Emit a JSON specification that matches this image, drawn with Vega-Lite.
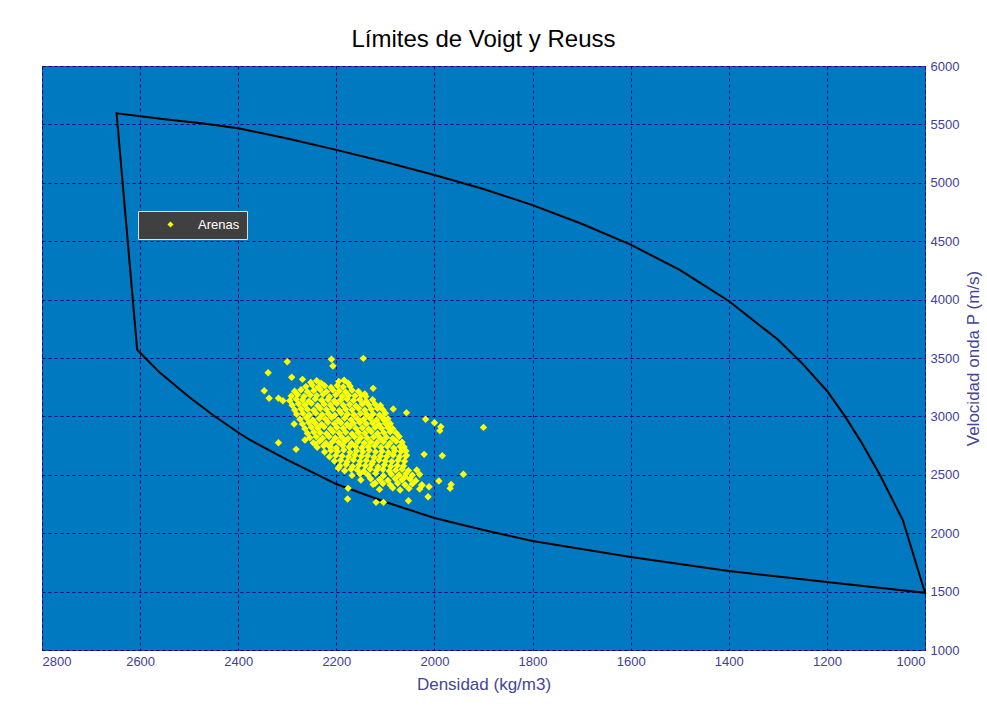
{
  "$schema": "https://vega.github.io/schema/vega-lite/v6.json",
  "width": 883,
  "height": 584,
  "autosize": {"type": "none"},
  "padding": {"left": 42, "top": 66, "right": 62, "bottom": 58},
  "background": "white",
  "title": {
    "text": "Límites de Voigt y Reuss",
    "font": "Liberation Sans",
    "fontSize": 24,
    "fontWeight": "normal",
    "color": "#000000",
    "anchor": "middle",
    "offset": 8
  },
  "config": {
    "view": {"fill": "#0079C1", "stroke": "#3C3CA0", "strokeWidth": 1},
    "axis": {
      "domain": false,
      "ticks": false,
      "grid": true,
      "gridColor": "#000080",
      "gridDash": [3, 3],
      "gridWidth": 1,
      "gridOpacity": 1,
      "labelColor": "#40409A",
      "labelFont": "Liberation Sans",
      "labelFontSize": 13,
      "labelPadding": 5,
      "titleColor": "#45459A",
      "titleFont": "Liberation Sans",
      "titleFontSize": 17,
      "titleFontWeight": "normal"
    }
  },
  "datasets": {
    "limites": [
      {"ord": 1, "den": 2606, "vel": 3570},
      {"ord": 2, "den": 2648, "vel": 5595},
      {"ord": 3, "den": 2550, "vel": 5545},
      {"ord": 4, "den": 2475, "vel": 5509},
      {"ord": 5, "den": 2400, "vel": 5467},
      {"ord": 6, "den": 2300, "vel": 5380},
      {"ord": 7, "den": 2200, "vel": 5282},
      {"ord": 8, "den": 2100, "vel": 5178},
      {"ord": 9, "den": 2000, "vel": 5067},
      {"ord": 10, "den": 1900, "vel": 4947},
      {"ord": 11, "den": 1800, "vel": 4809},
      {"ord": 12, "den": 1700, "vel": 4649},
      {"ord": 13, "den": 1600, "vel": 4470},
      {"ord": 14, "den": 1500, "vel": 4255},
      {"ord": 15, "den": 1400, "vel": 3988},
      {"ord": 16, "den": 1300, "vel": 3658},
      {"ord": 17, "den": 1250, "vel": 3452},
      {"ord": 18, "den": 1200, "vel": 3220},
      {"ord": 19, "den": 1163, "vel": 3000},
      {"ord": 20, "den": 1130, "vel": 2780},
      {"ord": 21, "den": 1092, "vel": 2500},
      {"ord": 22, "den": 1045, "vel": 2110},
      {"ord": 23, "den": 1000, "vel": 1490},
      {"ord": 24, "den": 1200, "vel": 1582},
      {"ord": 25, "den": 1400, "vel": 1676},
      {"ord": 26, "den": 1600, "vel": 1796},
      {"ord": 27, "den": 1800, "vel": 1933},
      {"ord": 28, "den": 1900, "vel": 2027},
      {"ord": 29, "den": 2000, "vel": 2130},
      {"ord": 30, "den": 2100, "vel": 2267},
      {"ord": 31, "den": 2200, "vel": 2421},
      {"ord": 32, "den": 2300, "vel": 2627},
      {"ord": 33, "den": 2376, "vel": 2798},
      {"ord": 34, "den": 2400, "vel": 2862},
      {"ord": 35, "den": 2451, "vel": 3010},
      {"ord": 36, "den": 2500, "vel": 3166},
      {"ord": 37, "den": 2560, "vel": 3375},
      {"ord": 38, "den": 2606, "vel": 3570}
    ],
    "arenas": [
      {"den": 2252, "vel": 3290}, {"den": 2240, "vel": 3305}, {"den": 2231, "vel": 3285}, {"den": 2195, "vel": 3300}, {"den": 2184, "vel": 3310}, {"den": 2176, "vel": 3285},
      {"den": 2262, "vel": 3255}, {"den": 2249, "vel": 3268}, {"den": 2237, "vel": 3250}, {"den": 2224, "vel": 3262}, {"den": 2211, "vel": 3248}, {"den": 2198, "vel": 3265}, {"den": 2186, "vel": 3252}, {"den": 2172, "vel": 3258},
      {"den": 2285, "vel": 3215}, {"den": 2272, "vel": 3228}, {"den": 2259, "vel": 3210}, {"den": 2246, "vel": 3222}, {"den": 2233, "vel": 3230}, {"den": 2220, "vel": 3212}, {"den": 2207, "vel": 3225}, {"den": 2194, "vel": 3218}, {"den": 2181, "vel": 3208}, {"den": 2168, "vel": 3224}, {"den": 2155, "vel": 3214},
      {"den": 2292, "vel": 3175}, {"den": 2279, "vel": 3188}, {"den": 2266, "vel": 3170}, {"den": 2253, "vel": 3182}, {"den": 2240, "vel": 3178}, {"den": 2227, "vel": 3190}, {"den": 2214, "vel": 3168}, {"den": 2201, "vel": 3185}, {"den": 2188, "vel": 3172}, {"den": 2175, "vel": 3180}, {"den": 2162, "vel": 3176}, {"den": 2149, "vel": 3184}, {"den": 2140, "vel": 3170},
      {"den": 2295, "vel": 3135}, {"den": 2282, "vel": 3148}, {"den": 2269, "vel": 3142}, {"den": 2256, "vel": 3130}, {"den": 2243, "vel": 3150}, {"den": 2230, "vel": 3138}, {"den": 2217, "vel": 3145}, {"den": 2204, "vel": 3132}, {"den": 2191, "vel": 3140}, {"den": 2178, "vel": 3148}, {"den": 2165, "vel": 3136}, {"den": 2152, "vel": 3144}, {"den": 2139, "vel": 3130}, {"den": 2126, "vel": 3142},
      {"den": 2290, "vel": 3095}, {"den": 2277, "vel": 3108}, {"den": 2264, "vel": 3100}, {"den": 2251, "vel": 3112}, {"den": 2238, "vel": 3092}, {"den": 2225, "vel": 3105}, {"den": 2212, "vel": 3098}, {"den": 2199, "vel": 3110}, {"den": 2186, "vel": 3096}, {"den": 2173, "vel": 3102}, {"den": 2160, "vel": 3090}, {"den": 2147, "vel": 3106}, {"den": 2134, "vel": 3099}, {"den": 2121, "vel": 3104}, {"den": 2110, "vel": 3094},
      {"den": 2285, "vel": 3055}, {"den": 2272, "vel": 3066}, {"den": 2259, "vel": 3060}, {"den": 2246, "vel": 3052}, {"den": 2233, "vel": 3068}, {"den": 2220, "vel": 3058}, {"den": 2207, "vel": 3064}, {"den": 2194, "vel": 3050}, {"den": 2181, "vel": 3062}, {"den": 2168, "vel": 3056}, {"den": 2155, "vel": 3070}, {"den": 2142, "vel": 3054}, {"den": 2129, "vel": 3061}, {"den": 2116, "vel": 3067}, {"den": 2105, "vel": 3058},
      {"den": 2281, "vel": 3018}, {"den": 2268, "vel": 3025}, {"den": 2255, "vel": 3012}, {"den": 2242, "vel": 3028}, {"den": 2229, "vel": 3015}, {"den": 2216, "vel": 3022}, {"den": 2203, "vel": 3010}, {"den": 2190, "vel": 3026}, {"den": 2177, "vel": 3019}, {"den": 2164, "vel": 3014}, {"den": 2151, "vel": 3024}, {"den": 2138, "vel": 3016}, {"den": 2125, "vel": 3021}, {"den": 2112, "vel": 3012}, {"den": 2100, "vel": 3027},
      {"den": 2274, "vel": 2975}, {"den": 2261, "vel": 2988}, {"den": 2248, "vel": 2970}, {"den": 2235, "vel": 2982}, {"den": 2222, "vel": 2978}, {"den": 2209, "vel": 2990}, {"den": 2196, "vel": 2968}, {"den": 2183, "vel": 2985}, {"den": 2170, "vel": 2972}, {"den": 2157, "vel": 2980}, {"den": 2144, "vel": 2976}, {"den": 2131, "vel": 2984}, {"den": 2118, "vel": 2970}, {"den": 2105, "vel": 2986}, {"den": 2095, "vel": 2979},
      {"den": 2269, "vel": 2935}, {"den": 2256, "vel": 2948}, {"den": 2243, "vel": 2942}, {"den": 2230, "vel": 2930}, {"den": 2217, "vel": 2950}, {"den": 2204, "vel": 2938}, {"den": 2191, "vel": 2945}, {"den": 2178, "vel": 2932}, {"den": 2165, "vel": 2940}, {"den": 2152, "vel": 2948}, {"den": 2139, "vel": 2936}, {"den": 2126, "vel": 2944}, {"den": 2113, "vel": 2930}, {"den": 2100, "vel": 2942}, {"den": 2090, "vel": 2938},
      {"den": 2264, "vel": 2895}, {"den": 2251, "vel": 2908}, {"den": 2238, "vel": 2900}, {"den": 2225, "vel": 2912}, {"den": 2212, "vel": 2892}, {"den": 2199, "vel": 2905}, {"den": 2186, "vel": 2898}, {"den": 2173, "vel": 2910}, {"den": 2160, "vel": 2896}, {"den": 2147, "vel": 2902}, {"den": 2134, "vel": 2890}, {"den": 2121, "vel": 2906}, {"den": 2108, "vel": 2899}, {"den": 2095, "vel": 2904}, {"den": 2085, "vel": 2894},
      {"den": 2259, "vel": 2855}, {"den": 2246, "vel": 2866}, {"den": 2233, "vel": 2860}, {"den": 2220, "vel": 2852}, {"den": 2207, "vel": 2868}, {"den": 2194, "vel": 2858}, {"den": 2181, "vel": 2864}, {"den": 2168, "vel": 2850}, {"den": 2155, "vel": 2862}, {"den": 2142, "vel": 2856}, {"den": 2129, "vel": 2870}, {"den": 2116, "vel": 2854}, {"den": 2103, "vel": 2861}, {"den": 2090, "vel": 2867}, {"den": 2078, "vel": 2858},
      {"den": 2254, "vel": 2818}, {"den": 2241, "vel": 2825}, {"den": 2228, "vel": 2812}, {"den": 2215, "vel": 2828}, {"den": 2202, "vel": 2815}, {"den": 2189, "vel": 2822}, {"den": 2176, "vel": 2810}, {"den": 2163, "vel": 2826}, {"den": 2150, "vel": 2819}, {"den": 2137, "vel": 2814}, {"den": 2124, "vel": 2824}, {"den": 2111, "vel": 2816}, {"den": 2098, "vel": 2821}, {"den": 2085, "vel": 2812}, {"den": 2072, "vel": 2827},
      {"den": 2247, "vel": 2775}, {"den": 2234, "vel": 2788}, {"den": 2221, "vel": 2770}, {"den": 2208, "vel": 2782}, {"den": 2195, "vel": 2778}, {"den": 2182, "vel": 2790}, {"den": 2169, "vel": 2768}, {"den": 2156, "vel": 2785}, {"den": 2143, "vel": 2772}, {"den": 2130, "vel": 2780}, {"den": 2117, "vel": 2776}, {"den": 2104, "vel": 2784}, {"den": 2091, "vel": 2770}, {"den": 2078, "vel": 2786}, {"den": 2066, "vel": 2779},
      {"den": 2239, "vel": 2735}, {"den": 2226, "vel": 2748}, {"den": 2213, "vel": 2742}, {"den": 2200, "vel": 2730}, {"den": 2187, "vel": 2750}, {"den": 2174, "vel": 2738}, {"den": 2161, "vel": 2745}, {"den": 2148, "vel": 2732}, {"den": 2135, "vel": 2740}, {"den": 2122, "vel": 2748}, {"den": 2109, "vel": 2736}, {"den": 2096, "vel": 2744}, {"den": 2083, "vel": 2730}, {"den": 2070, "vel": 2742}, {"den": 2062, "vel": 2738},
      {"den": 2224, "vel": 2695}, {"den": 2211, "vel": 2708}, {"den": 2198, "vel": 2700}, {"den": 2185, "vel": 2712}, {"den": 2172, "vel": 2692}, {"den": 2159, "vel": 2705}, {"den": 2146, "vel": 2698}, {"den": 2133, "vel": 2710}, {"den": 2120, "vel": 2696}, {"den": 2107, "vel": 2702}, {"den": 2094, "vel": 2690}, {"den": 2081, "vel": 2706}, {"den": 2068, "vel": 2699}, {"den": 2058, "vel": 2704},
      {"den": 2214, "vel": 2655}, {"den": 2201, "vel": 2666}, {"den": 2188, "vel": 2660}, {"den": 2175, "vel": 2652}, {"den": 2162, "vel": 2668}, {"den": 2149, "vel": 2658}, {"den": 2136, "vel": 2664}, {"den": 2123, "vel": 2650}, {"den": 2110, "vel": 2662}, {"den": 2097, "vel": 2656}, {"den": 2084, "vel": 2670}, {"den": 2071, "vel": 2654}, {"den": 2058, "vel": 2661},
      {"den": 2204, "vel": 2618}, {"den": 2191, "vel": 2625}, {"den": 2178, "vel": 2612}, {"den": 2165, "vel": 2628}, {"den": 2152, "vel": 2615}, {"den": 2139, "vel": 2622}, {"den": 2126, "vel": 2610}, {"den": 2113, "vel": 2626}, {"den": 2100, "vel": 2619}, {"den": 2087, "vel": 2614}, {"den": 2074, "vel": 2624}, {"den": 2061, "vel": 2616},
      {"den": 2193, "vel": 2575}, {"den": 2180, "vel": 2588}, {"den": 2167, "vel": 2570}, {"den": 2154, "vel": 2582}, {"den": 2141, "vel": 2578}, {"den": 2128, "vel": 2590}, {"den": 2115, "vel": 2568}, {"den": 2102, "vel": 2585}, {"den": 2089, "vel": 2572}, {"den": 2076, "vel": 2580}, {"den": 2063, "vel": 2576},
      {"den": 2183, "vel": 2535}, {"den": 2170, "vel": 2548}, {"den": 2157, "vel": 2542}, {"den": 2144, "vel": 2530}, {"den": 2131, "vel": 2550}, {"den": 2118, "vel": 2538}, {"den": 2105, "vel": 2545}, {"den": 2092, "vel": 2532}, {"den": 2079, "vel": 2540}, {"den": 2066, "vel": 2548}, {"den": 2053, "vel": 2536},
      {"den": 2168, "vel": 2495}, {"den": 2152, "vel": 2508}, {"den": 2136, "vel": 2500}, {"den": 2120, "vel": 2512}, {"den": 2104, "vel": 2492}, {"den": 2088, "vel": 2505}, {"den": 2072, "vel": 2498}, {"den": 2058, "vel": 2510}, {"den": 2045, "vel": 2496}, {"den": 2030, "vel": 2502},
      {"den": 2150, "vel": 2455}, {"den": 2130, "vel": 2466}, {"den": 2112, "vel": 2460}, {"den": 2095, "vel": 2452}, {"den": 2080, "vel": 2468}, {"den": 2066, "vel": 2458}, {"den": 2050, "vel": 2464}, {"den": 2038, "vel": 2450},
      {"den": 2125, "vel": 2418}, {"den": 2105, "vel": 2425}, {"den": 2090, "vel": 2412}, {"den": 2075, "vel": 2428}, {"den": 2060, "vel": 2415}, {"den": 2045, "vel": 2422}, {"den": 2025, "vel": 2410},
      {"den": 2112, "vel": 2375}, {"den": 2085, "vel": 2388}, {"den": 2070, "vel": 2370}, {"den": 2052, "vel": 2382}, {"den": 2030, "vel": 2378},
      {"den": 2339, "vel": 3374}, {"den": 2300, "vel": 3468}, {"den": 2347, "vel": 3220}, {"den": 2337, "vel": 3155}, {"den": 2318, "vel": 3155}, {"den": 2309, "vel": 3134},
      {"den": 2291, "vel": 3335}, {"den": 2269, "vel": 3317}, {"den": 2210, "vel": 3489}, {"den": 2207, "vel": 3431}, {"den": 2145, "vel": 3497}, {"den": 2125, "vel": 3240},
      {"den": 2142, "vel": 3192}, {"den": 2318, "vel": 2775}, {"den": 2282, "vel": 2718}, {"den": 2243, "vel": 2761}, {"den": 2057, "vel": 3032}, {"den": 2018, "vel": 2975},
      {"den": 2000, "vel": 2946}, {"den": 1987, "vel": 2912}, {"den": 1989, "vel": 2878}, {"den": 1900, "vel": 2906}, {"den": 2021, "vel": 2675}, {"den": 1984, "vel": 2663},
      {"den": 1941, "vel": 2504}, {"den": 1966, "vel": 2418}, {"den": 1968, "vel": 2384}, {"den": 1991, "vel": 2447}, {"den": 2011, "vel": 2398}, {"den": 2013, "vel": 2312},
      {"den": 2026, "vel": 2413}, {"den": 2053, "vel": 2278}, {"den": 2177, "vel": 2293}, {"den": 2176, "vel": 2384}, {"den": 2119, "vel": 2264}, {"den": 2104, "vel": 2264},
      {"den": 2121, "vel": 2427}, {"den": 2057, "vel": 2667}, {"den": 2084, "vel": 3063}, {"den": 2103, "vel": 2969}, {"den": 2286, "vel": 2935}, {"den": 2264, "vel": 2798},
      {"den": 2213, "vel": 2740}, {"den": 2060, "vel": 2484}, {"den": 2196, "vel": 2556}, {"den": 2036, "vel": 2541}
    ]
  },
  "encoding": {
    "x": {
      "field": "den",
      "type": "quantitative",
      "scale": {"domain": [1000, 2800], "reverse": true, "nice": false, "zero": false},
      "axis": {
        "orient": "bottom",
        "values": [1000, 1200, 1400, 1600, 1800, 2000, 2200, 2400, 2600, 2800],
        "format": "d",
        "title": "Densidad (kg/m3)",
        "titlePadding": 8
      }
    },
    "y": {
      "field": "vel",
      "type": "quantitative",
      "scale": {"domain": [1000, 6000], "nice": false, "zero": false},
      "axis": {
        "orient": "right",
        "values": [1000, 1500, 2000, 2500, 3000, 3500, 4000, 4500, 5000, 5500, 6000],
        "format": "d",
        "labelAlign": "left",
        "title": "Velocidad onda P (m/s)",
        "titleAngle": 270,
        "titleBaseline": "top",
        "titlePadding": 7
      }
    }
  },
  "layer": [
    {
      "data": {"name": "limites"},
      "mark": {"type": "line", "color": "#000000", "strokeWidth": 2},
      "encoding": {"order": {"field": "ord", "type": "quantitative"}}
    },
    {
      "data": {"name": "arenas"},
      "mark": {"type": "point", "shape": "diamond", "filled": true, "size": 55, "opacity": 1},
      "encoding": {
        "color": {
          "datum": "Arenas",
          "scale": {"range": ["#FFFF00"]},
          "legend": {
            "title": null,
            "orient": "none",
            "legendX": 96,
            "legendY": 145,
            "fillColor": "#404040",
            "strokeColor": "#DDDDDD",
            "padding": 7,
            "labelColor": "#FFFFFF",
            "labelFont": "Liberation Sans",
            "labelFontSize": 13,
            "symbolType": "diamond",
            "symbolSize": 36,
            "symbolFillColor": "#FFFF00",
            "symbolStrokeWidth": 0,
            "symbolOffset": 19,
            "labelOffset": 21
          }
        }
      }
    }
  ]
}
